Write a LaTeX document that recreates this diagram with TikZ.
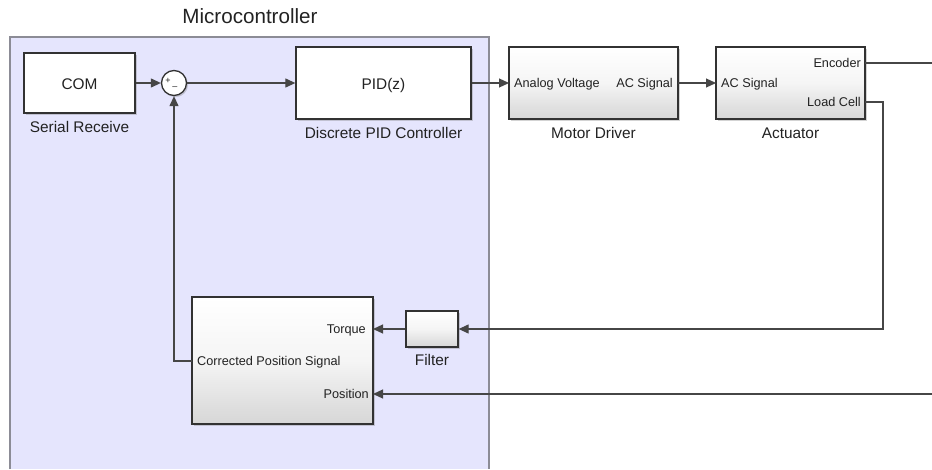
\documentclass[tikz,border=0pt]{standalone}
\usepackage{fontspec}
\setmainfont{Liberation Sans}
\usetikzlibrary{arrows.meta,shadows}
\definecolor{mcfill}{RGB}{229,229,253}
\definecolor{mcedge}{RGB}{140,140,150}
\definecolor{txt}{RGB}{34,34,34}
\definecolor{wire}{RGB}{70,70,70}
\definecolor{bedge}{RGB}{50,50,50}
\tikzset{
  blk/.style={draw=bedge, line width=1.3pt, inner sep=0pt,
    drop shadow={shadow xshift=1.6pt, shadow yshift=-1.6pt, opacity=0.35}},
  whiteblk/.style={blk, fill=white},
  shadeblk/.style={blk, top color=white, bottom color=black!16, middle color=white!96!black},
  mainfont/.style={font=\fontsize{15.4}{18}\selectfont, text=txt},
  portfont/.style={font=\fontsize{12.7}{15}\selectfont, text=txt, inner sep=0pt},
  arr/.style={draw=wire, line width=1.2pt, -{Triangle[length=10pt,width=9pt]}},
  wireline/.style={draw=wire, line width=1.2pt},
}
\begin{document}
\begin{tikzpicture}[x=1pt,y=-1pt]
\useasboundingbox (0,0) rectangle (932,469);
% Microcontroller subsystem area
\fill[mcfill] (10,37) rectangle (489,469);
\draw[mcedge, line width=1.3pt] (10,469) -- (10,37) -- (489,37) -- (489,469);
\node[font=\fontsize{20.6}{23}\selectfont, text=txt, anchor=base, inner sep=0pt] (title) at (250,23) {Microcontroller};

% Blocks
\node[whiteblk, minimum width=111pt, minimum height=60pt] (com) at (79.5,83) {};
\node[blk, circle, fill=white, minimum size=25pt] (sum) at (174,83) {};
\node[font=\fontsize{9}{10}\selectfont, text=txt, inner sep=0pt] (plus) at (168,81) {+};
\node[font=\fontsize{9}{10}\selectfont, text=txt, inner sep=0pt] (minus) at (175,88) {--};
\node[whiteblk, minimum width=175pt, minimum height=72pt] (pid) at (383.5,83) {};
\node[shadeblk, minimum width=169pt, minimum height=72pt] (mot) at (593.5,83) {};
\node[shadeblk, minimum width=149pt, minimum height=72pt] (act) at (790.5,83) {};
\node[shadeblk, minimum width=52pt, minimum height=36pt] (filt) at (432,329) {};
\node[shadeblk, minimum width=181pt, minimum height=127pt] (cps) at (282.5,360.5) {};

% Block contents
\node[mainfont, anchor=base, inner sep=0pt] (comtxt) at (79.5,89) {COM};
\node[mainfont, anchor=base, inner sep=0pt] (pidtxt) at (383.5,89) {PID(z)};

% Block names
\node[mainfont, anchor=base, inner sep=0pt] (comlbl) at ([yshift=-19pt]com.south) {Serial Receive};
\node[mainfont, anchor=base, inner sep=0pt] (pidlbl) at ([yshift=-19pt]pid.south) {Discrete PID Controller};
\node[mainfont, anchor=base, inner sep=0pt] (motlbl) at ([yshift=-19pt]mot.south) {Motor Driver};
\node[mainfont, anchor=base, inner sep=0pt] (actlbl) at ([yshift=-19pt]act.south) {Actuator};
\node[mainfont, anchor=base, inner sep=0pt] (filtlbl) at ([yshift=-18pt]filt.south) {Filter};

% Port coordinates
\coordinate (motIn) at (509,83);
\coordinate (motOut) at (678,83);
\coordinate (actIn) at (716,83);
\coordinate (actEnc) at (865,63);
\coordinate (actLC) at (865,102);
\coordinate (cpsTq) at (373,329);
\coordinate (cpsCor) at (192,361);
\coordinate (cpsPos) at (373,394);
\coordinate (encEnd) at (932,63);
\coordinate (posEnd) at (932,394);

% Port labels
\node[portfont, anchor=base west] (p1) at (514,87.5) {Analog Voltage};
\node[portfont, anchor=base east] (p2) at (673,87.5) {AC Signal};
\node[portfont, anchor=base west] (p3) at (721,87.5) {AC Signal};
\node[portfont, anchor=base east] (p4) at (861,67.5) {Encoder};
\node[portfont, anchor=base east] (p5) at (861,106.5) {Load Cell};
\node[portfont, anchor=base east] (p6) at (366,333.5) {Torque};
\node[portfont, anchor=base west] (p7) at (197,365.5) {Corrected Position Signal};
\node[portfont, anchor=base east] (p8) at (369,398.5) {Position};

% Connectors
\draw[arr] (com.east) -- (sum.west);
\draw[arr] (sum.east) -- (pid.west);
\draw[arr] (pid.east) -- (motIn);
\draw[arr] (motOut) -- (actIn);
\draw[wireline] (actEnc) -- (encEnd);
\draw[arr] (actLC) -- ++(18,0) |- (filt.east);
\draw[arr] (filt.west) -- (cpsTq);
\draw[arr] (posEnd) -- (cpsPos);
\draw[arr] (cpsCor) -| (sum.south);
\end{tikzpicture}
\end{document}
